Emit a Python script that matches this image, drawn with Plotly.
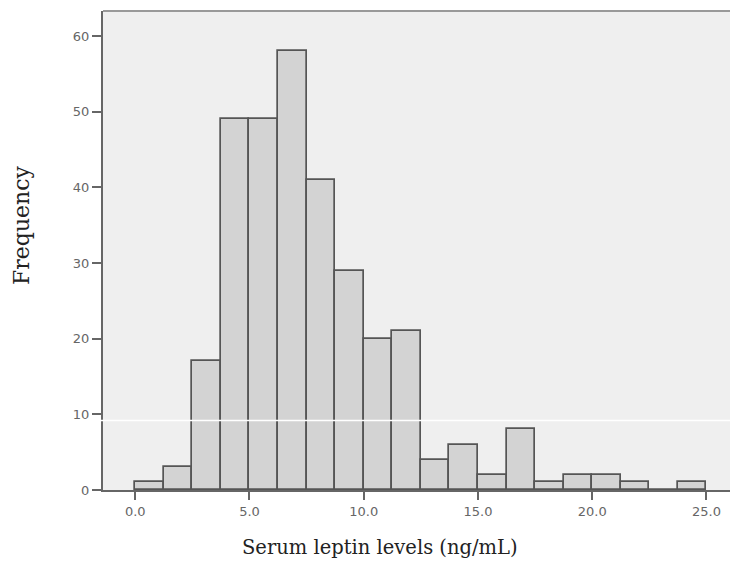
import plotly.graph_objects as go

bin_starts = [0.0, 1.25, 2.5, 3.75, 5.0, 6.25, 7.5, 8.75, 10.0, 11.25,
              12.5, 13.75, 15.0, 16.25, 17.5, 18.75, 20.0, 21.25, 22.5, 23.75]
frequencies = [1, 3, 17, 49, 49, 58, 41, 29, 20, 21,
               4, 6, 2, 8, 1, 2, 2, 1, 0, 1]
bin_width = 1.25
x_ticks = [0, 5, 10, 15, 20, 25]
x_tick_labels = ["0.0", "5.0", "10.0", "15.0", "20.0", "25.0"]
y_ticks = [0, 10, 20, 30, 40, 50, 60]

centers = [s + bin_width / 2 for s in bin_starts]

fig = go.Figure()
fig.add_trace(go.Bar(
    x=centers, y=frequencies, width=[bin_width] * len(centers),
    marker=dict(color="#d3d3d3", line=dict(color="#555555", width=1.7)),
    hoverinfo="x+y",
))

tick_font = dict(family="DejaVu Sans, Verdana", size=13, color="#666666")

fig.update_layout(
    width=730, height=563,
    margin=dict(l=103, r=0, t=11, b=73),
    paper_bgcolor="white",
    plot_bgcolor="#efefef",
    showlegend=False,
    bargap=0,
    xaxis=dict(
        range=[-1.41, 26.03], tickvals=x_ticks, ticktext=x_tick_labels,
        showgrid=False, zeroline=False, showline=True, linecolor="#666666", linewidth=2,
        ticks="outside", ticklen=8, tickwidth=2, tickcolor="#666666",
        tickfont=tick_font,
    ),
    yaxis=dict(
        range=[0, 63.3], tickvals=y_ticks,
        showgrid=False, zeroline=False, showline=True, linecolor="#666666", linewidth=2,
        ticks="outside", ticklen=9, tickwidth=2, tickcolor="#666666",
        tickfont=tick_font,
    ),
    shapes=[
        dict(type="line", xref="paper", yref="paper", x0=0, x1=1, y0=1, y1=1,
             line=dict(color="#999999", width=2)),
        dict(type="line", xref="paper", yref="y", x0=-0.2, x1=1, y0=9.18, y1=9.18,
             line=dict(color="white", width=1.5), layer="above"),
    ],
    annotations=[
        dict(text="Frequency", xref="paper", yref="paper", x=-0.131, y=0.553,
             xanchor="center", yanchor="middle", textangle=-90, showarrow=False,
             font=dict(family="DejaVu Serif, Times New Roman", size=22, color="#222222")),
        dict(text="Serum leptin levels (ng/mL)", xref="paper", yref="paper", x=0.442, y=-0.121,
             xanchor="center", yanchor="middle", showarrow=False,
             font=dict(family="DejaVu Serif, Times New Roman", size=19.5, color="#222222")),
    ],
)

fig.write_html("out.html", config={"displayModeBar": False},
               post_script="document.body.style.margin='0';document.body.style.overflow='hidden';")
